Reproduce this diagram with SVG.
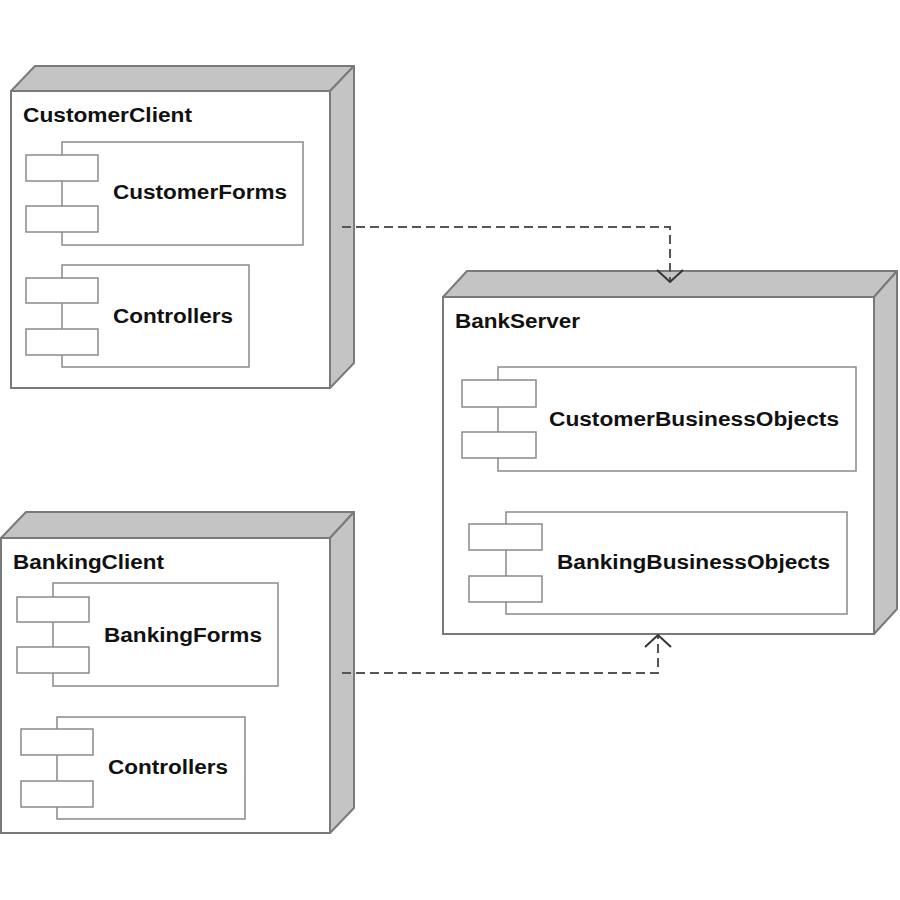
<svg xmlns="http://www.w3.org/2000/svg" width="900" height="900" viewBox="0 0 900 900">
<style>
.front{fill:#fff;stroke:#7a7a7a;stroke-width:2}
.face{fill:#c4c4c4;stroke:#7a7a7a;stroke-width:2;stroke-linejoin:round}
.comp{fill:#fff;stroke:#8a8a8a;stroke-width:1.5}
.lbl{font-family:"Liberation Sans",Arial,sans-serif;font-weight:bold;font-size:20px;fill:#111}
.dep{fill:none;stroke:#555;stroke-width:2;stroke-dasharray:9 5}
.head{fill:none;stroke:#333;stroke-width:2}
</style>
<rect width="900" height="900" fill="#fff"/>
<g id="CustomerClient">
<polygon class="face" points="11,91 35,66 354,66 330,91"/>
<polygon class="face" points="330,91 354,66 354,363 330,388"/>
<rect class="front" x="11" y="91" width="319" height="297"/>
<text class="lbl" x="23" y="122" textLength="169" lengthAdjust="spacingAndGlyphs">CustomerClient</text>
<g id="CustomerForms">
<rect class="comp" x="62" y="142" width="241" height="103"/>
<rect class="comp" x="26" y="155" width="72" height="26"/>
<rect class="comp" x="26" y="206" width="72" height="26"/>
<text class="lbl" x="113" y="199" textLength="174" lengthAdjust="spacingAndGlyphs">CustomerForms</text>
</g>
<g id="Controllers1">
<rect class="comp" x="62" y="265" width="187" height="102"/>
<rect class="comp" x="26" y="278" width="72" height="25"/>
<rect class="comp" x="26" y="329" width="72" height="26"/>
<text class="lbl" x="113" y="323" textLength="120" lengthAdjust="spacingAndGlyphs">Controllers</text>
</g>
</g>
<g id="BankingClient">
<polygon class="face" points="1,538 26,512 354,512 330,538"/>
<polygon class="face" points="330,538 354,512 354,808 330,833"/>
<rect class="front" x="1" y="538" width="329" height="295"/>
<text class="lbl" x="13" y="569" textLength="151" lengthAdjust="spacingAndGlyphs">BankingClient</text>
<g id="BankingForms">
<rect class="comp" x="53" y="583" width="225" height="103"/>
<rect class="comp" x="17" y="597" width="72" height="25"/>
<rect class="comp" x="17" y="647" width="72" height="26"/>
<text class="lbl" x="104" y="642" textLength="158" lengthAdjust="spacingAndGlyphs">BankingForms</text>
</g>
<g id="Controllers2">
<rect class="comp" x="57" y="717" width="188" height="102"/>
<rect class="comp" x="21" y="729" width="72" height="26"/>
<rect class="comp" x="21" y="781" width="72" height="26"/>
<text class="lbl" x="108" y="774" textLength="120" lengthAdjust="spacingAndGlyphs">Controllers</text>
</g>
</g>
<g id="BankServer">
<polygon class="face" points="443,297 467,271 897,271 874,297"/>
<polygon class="face" points="874,297 897,271 897,609 874,634"/>
<rect class="front" x="443" y="297" width="431" height="337"/>
<text class="lbl" x="455" y="328" textLength="125" lengthAdjust="spacingAndGlyphs">BankServer</text>
<g id="CustomerBusinessObjects">
<rect class="comp" x="498" y="367" width="358" height="104"/>
<rect class="comp" x="462" y="380" width="74" height="27"/>
<rect class="comp" x="462" y="432" width="74" height="26"/>
<text class="lbl" x="549" y="426" textLength="290" lengthAdjust="spacingAndGlyphs">CustomerBusinessObjects</text>
</g>
<g id="BankingBusinessObjects">
<rect class="comp" x="506" y="512" width="341" height="102"/>
<rect class="comp" x="469" y="524" width="73" height="26"/>
<rect class="comp" x="469" y="576" width="73" height="26"/>
<text class="lbl" x="557" y="569" textLength="273" lengthAdjust="spacingAndGlyphs">BankingBusinessObjects</text>
</g>
</g>
<g id="connectors">
<path class="dep" d="M342,227 H670 V281"/>
<polyline class="head" points="657,270 670,282 683,270"/>
<path class="dep" d="M342,673 H658 V636"/>
<polyline class="head" points="645,647 658,635 671,647"/>
</g>
</svg>
